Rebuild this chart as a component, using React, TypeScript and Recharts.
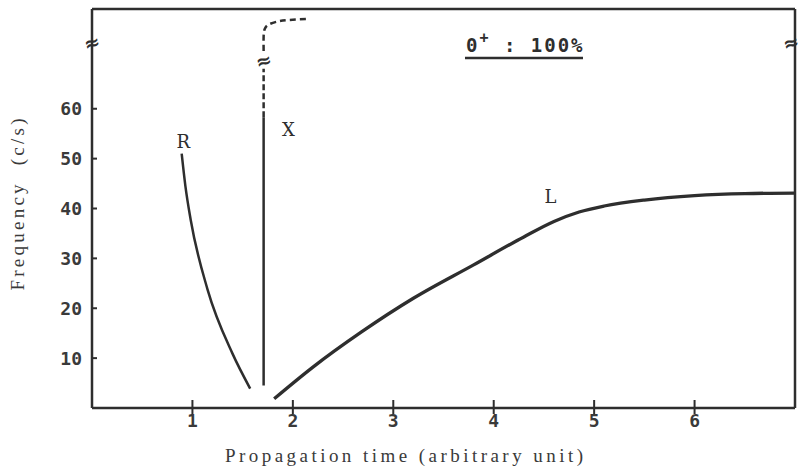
import { Line, LineChart, ReferenceDot, XAxis, YAxis } from "recharts";

const INK = "#2e2e2e";

const xTicks = [1, 2, 3, 4, 5, 6];
const yTicks = [10, 20, 30, 40, 50, 60];
const rightTicks = [10, 20, 30, 40, 50, 60];

// R branch (propagation time t, frequency f)
const rBranch = [
  { t: 0.893, f: 51.0 },
  { t: 0.93, f: 44.5 },
  { t: 0.983, f: 37.7 },
  { t: 1.15, f: 23.8 },
  { t: 1.399, f: 10.9 },
  { t: 1.575, f: 3.9 },
];

// X branch: solid part, dashed part below the break, dashed hook above it
const xSolid = [
  { t: 1.709, f: 4.5 },
  { t: 1.709, f: 58.3 },
];
const xDashLow = [
  { t: 1.709, f: 58.3 },
  { t: 1.709, f: 68.0 },
];
const xDashHigh = [
  { t: 1.709, f: 71.6 },
  { t: 1.709, f: 74.5 },
  { t: 1.72, f: 76.0 },
  { t: 1.76, f: 76.9 },
  { t: 1.85, f: 77.5 },
  { t: 1.96, f: 77.8 },
  { t: 2.15, f: 78.0 },
];

// L branch
const lBranch = [
  { t: 1.814, f: 1.85 },
  { t: 2.2, f: 8.2 },
  { t: 2.68, f: 15.2 },
  { t: 3.2, f: 22.0 },
  { t: 3.8, f: 28.7 },
  { t: 4.3, f: 34.3 },
  { t: 4.6, f: 37.4 },
  { t: 4.85, f: 39.3 },
  { t: 5.1, f: 40.5 },
  { t: 5.5, f: 41.7 },
  { t: 6.0, f: 42.6 },
  { t: 6.5, f: 43.0 },
  { t: 7.0, f: 43.1 },
];

const tickFont = {
  fontFamily: "DejaVu Sans Mono",
  fontSize: 18,
  fontWeight: "bold",
  fill: "#3a3a3a",
};
const typeFont = { fontFamily: "DejaVu Serif", fontSize: 18, fill: INK };

function LeftTick({ x, y, payload }: any) {
  return (
    <g>
      <line x1={x + 10} x2={x + 15} y1={y} y2={y} stroke={INK} strokeWidth={2} />
      <text x={x} y={y} textAnchor="end" dominantBaseline="central" {...tickFont}>
        {payload.value}
      </text>
    </g>
  );
}

function BottomTick({ x, y, payload }: any) {
  return (
    <g>
      <line x1={x} x2={x} y1={y - 8} y2={y + 6} stroke={INK} strokeWidth={2} />
      <text x={x} y={y + 19} textAnchor="middle" {...tickFont}>
        {payload.value}
      </text>
    </g>
  );
}

function RightTick({ x, y }: any) {
  return <line x1={x - 6} x2={x} y1={y} y2={y} stroke={INK} strokeWidth={2} />;
}

function YTitle({ viewBox }: any) {
  const cx = viewBox.x + 17;
  const cy = viewBox.y + viewBox.height / 2 - 4;
  return (
    <text
      x={cx}
      y={cy}
      transform={`rotate(-90, ${cx}, ${cy})`}
      textAnchor="middle"
      dominantBaseline="central"
      fontFamily="Liberation Serif"
      fontSize={19}
      fill="#3a3a3a"
      textLength={172}
      lengthAdjust="spacing"
      style={{ whiteSpace: "pre" }}
    >
      Frequency  (c/s)
    </text>
  );
}

function XTitle({ viewBox }: any) {
  return (
    <text
      x={404}
      y={viewBox.y + 54}
      textAnchor="middle"
      fontFamily="Liberation Serif"
      fontSize={19}
      fill="#3a3a3a"
      textLength={358}
      lengthAdjust="spacing"
    >
      Propagation time (arbitrary unit)
    </text>
  );
}

const tag = (s: string) => (p: any) => (
  <text x={p.cx} y={p.cy} textAnchor="middle" dominantBaseline="central" {...typeFont}>
    {s}
  </text>
);

const breakMark = (p: any) => (
  <text
    x={p.cx}
    y={p.cy}
    textAnchor="middle"
    dominantBaseline="central"
    transform={`rotate(-15, ${p.cx}, ${p.cy})`}
    fontFamily="DejaVu Sans"
    fontWeight="bold"
    fontSize={19}
    fill={INK}
  >
    ≈
  </text>
);

const caption = (p: any) => (
  <g>
    <text
      x={p.cx}
      y={p.cy}
      fontFamily="DejaVu Sans Mono"
      fontSize={19}
      fontWeight="bold"
      letterSpacing={2}
      fill={INK}
      style={{ whiteSpace: "pre" }}
    >
      0
      <tspan dy={-9} fontSize={15}>
        +
      </tspan>
      <tspan dy={9}> : 100%</tspan>
    </text>
    <line x1={p.cx - 1} x2={p.cx + 117} y1={p.cy + 6} y2={p.cy + 6} stroke={INK} strokeWidth={2.5} />
  </g>
);

const lineProps = { dot: false, activeDot: false, isAnimationActive: false } as const;

export default function App() {
  return (
    <div style={{ width: 803, height: 472, background: "#fff" }}>
      <style>{`body{margin:0}`}</style>
      <LineChart width={803} height={472} margin={{ top: 8, right: 7, bottom: 0, left: 0 }}>
        <XAxis
          dataKey="t"
          type="number"
          domain={[0, 7]}
          ticks={xTicks}
          height={64}
          tickSize={0}
          tickMargin={0}
          tickLine={false}
          tick={BottomTick}
          axisLine={{ stroke: INK, strokeWidth: 2.5 }}
          label={XTitle}
        />
        <XAxis
          xAxisId="top"
          orientation="top"
          type="number"
          domain={[0, 7]}
          height={1}
          tick={false}
          tickLine={false}
          axisLine={{ stroke: INK, strokeWidth: 2.5 }}
        />
        <YAxis
          type="number"
          domain={[0, 80]}
          ticks={yTicks}
          width={92}
          tickSize={0}
          tickMargin={10}
          tickLine={false}
          tick={LeftTick}
          axisLine={{ stroke: INK, strokeWidth: 2.5 }}
          label={YTitle}
        />
        <YAxis
          yAxisId="right"
          orientation="right"
          type="number"
          domain={[0, 80]}
          ticks={rightTicks}
          width={1}
          tickSize={0}
          tickMargin={0}
          tickLine={false}
          tick={RightTick}
          axisLine={{ stroke: INK, strokeWidth: 2.5 }}
        />
        <Line data={rBranch} dataKey="f" type="monotone" stroke={INK} strokeWidth={2.5} {...lineProps} />
        <Line data={xSolid} dataKey="f" type="linear" stroke={INK} strokeWidth={2.5} {...lineProps} />
        <Line data={xDashLow} dataKey="f" type="linear" stroke={INK} strokeWidth={2.5} strokeDasharray="6 3" {...lineProps} />
        <Line data={xDashHigh} dataKey="f" type="natural" stroke={INK} strokeWidth={2.5} strokeDasharray="6 4" {...lineProps} />
        <Line data={lBranch} dataKey="f" type="monotone" stroke={INK} strokeWidth={3.3} {...lineProps} />
        <ReferenceDot x={0.908} y={53.5} ifOverflow="visible" shape={tag("R")} />
        <ReferenceDot x={1.956} y={55.9} ifOverflow="visible" shape={tag("X")} />
        <ReferenceDot x={4.566} y={42.4} ifOverflow="visible" shape={tag("L")} />
        <ReferenceDot x={0} y={73.3} ifOverflow="visible" shape={breakMark} />
        <ReferenceDot x={6.96} y={73.3} ifOverflow="visible" shape={breakMark} />
        <ReferenceDot x={1.709} y={69.7} ifOverflow="visible" shape={breakMark} />
        <ReferenceDot x={3.724} y={71.4} ifOverflow="visible" shape={caption} />
      </LineChart>
    </div>
  );
}
